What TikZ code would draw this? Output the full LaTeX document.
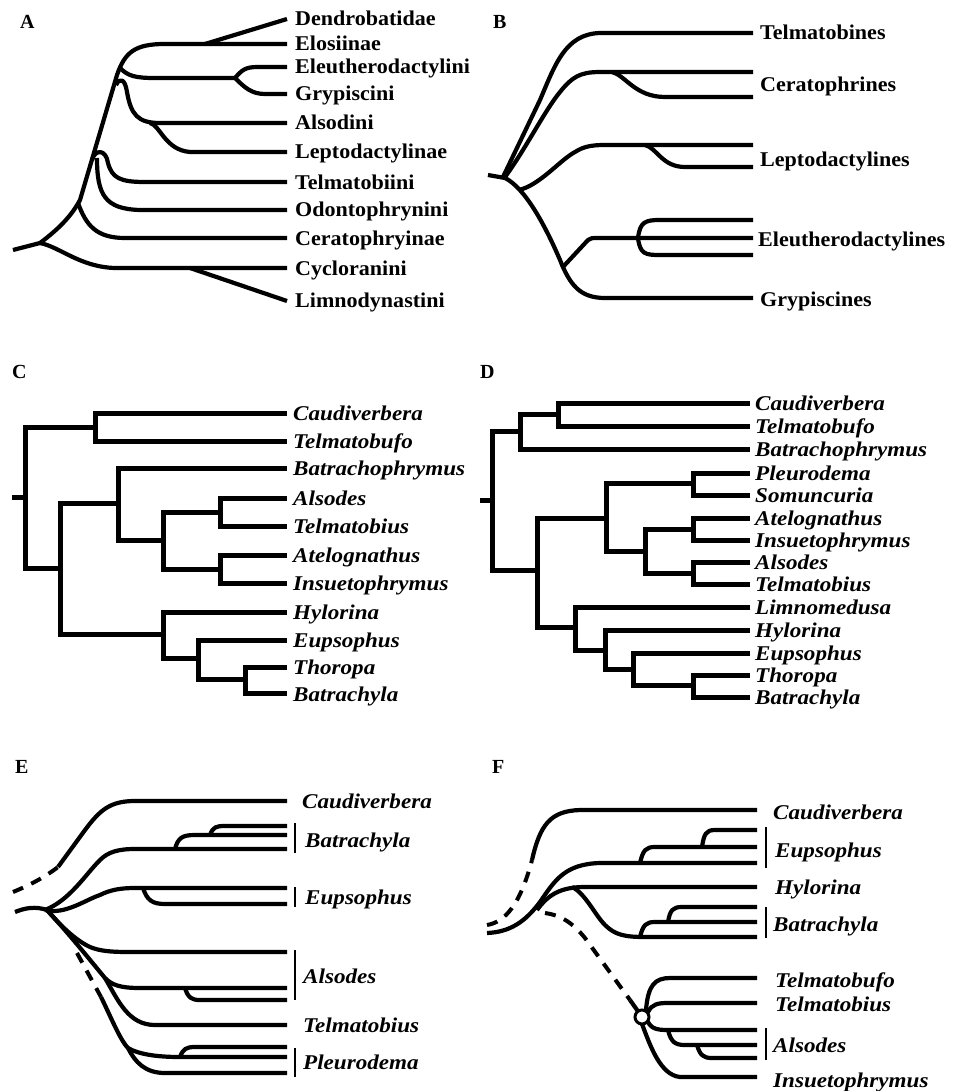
\documentclass[tikz,border=0pt]{standalone}
\usepackage{fontspec}
\setmainfont{Liberation Serif}
\newfontfamily\lf[FakeStretch=1.1]{Liberation Serif}
\newfontfamily\lfa[FakeStretch=1.05]{Liberation Serif}
\begin{document}
\begin{tikzpicture}[x=1pt,y=-1pt,
  crv/.style={line width=4.2pt,line join=round},
  rt/.style={line width=5pt,line join=miter},
  dsh/.style={line width=4pt,dash pattern=on 11pt off 9pt},
  bar/.style={line width=1.8pt},
  labA/.style={font=\lfa\bfseries\fontsize{21}{23}\selectfont,anchor=west,inner sep=0pt,text height=13.5pt,text depth=0pt},
  labI/.style={font=\lf\bfseries\itshape\fontsize{21}{23}\selectfont,anchor=west,inner sep=0pt,text height=14pt,text depth=0pt},
  panel/.style={font=\bfseries\fontsize{20}{22}\selectfont,anchor=west,inner sep=0pt,text height=13pt,text depth=0pt}]
\useasboundingbox (0,0) rectangle (953,1091);
\fill[white] (0,0) rectangle (953,1091);

% ---------------- Panel letters
\node[panel] (pA) at (20,22) {A};
\node[panel] (pB) at (493,22) {B};
\node[panel] (pC) at (12,372) {C};
\node[panel] (pD) at (480,372) {D};
\node[panel] (pE) at (15,767) {E};
\node[panel] (pF) at (492,767) {F};

% ---------------- Panel A
\draw[crv] (13,250) -- (40,243);
\draw[crv] (40,243) .. controls (60,228) and (72,215) .. (80,200) -- (117,75) .. controls (125,52) and (135,44) .. (165,44) -- (287,44);
\draw[crv] (205,44) -- (287,19);
\draw[crv] (40,243) .. controls (60,247) and (80,267) .. (115,268) -- (287,268);
\draw[crv] (190,268) -- (287,301);
\draw[crv] (78,203) .. controls (86,225) and (96,238) .. (125,238) -- (287,238);
\draw[crv] (92,160) .. controls (95,149) and (106,149) .. (108,163) .. controls (112,178) and (120,182) .. (145,182) -- (287,182);
\draw[crv] (97,158) .. controls (97,195) and (105,209) .. (140,210) -- (287,210);
\draw[crv] (120,68) .. controls (128,76) and (135,78) .. (155,78) -- (235,78);
\draw[crv] (235,78) .. controls (242,70) and (245,67) .. (258,67) -- (287,67);
\draw[crv] (235,78) .. controls (245,88) and (252,94) .. (265,94) -- (287,94);
\draw[crv] (116,85) .. controls (120,77) and (125,79) .. (127,92) .. controls (131,115) and (138,123) .. (160,123) -- (287,123);
\draw[crv] (150,123) .. controls (160,125) and (165,150) .. (190,152) -- (287,152);
\node[labA] (a1) at (295,19) {Dendrobatidae};
\node[labA] (a2) at (295,44) {Elosiinae};
\node[labA] (a3) at (295,67) {Eleutherodactylini};
\node[labA] (a4) at (295,94) {Grypiscini};
\node[labA] (a5) at (295,123) {Alsodini};
\node[labA] (a6) at (295,152) {Leptodactylinae};
\node[labA] (a7) at (295,183) {Telmatobiini};
\node[labA] (a8) at (295,210) {Odontophrynini};
\node[labA] (a9) at (295,239) {Ceratophryinae};
\node[labA] (a10) at (295,269) {Cycloranini};
\node[labA] (a11) at (295,301) {Limnodynastini};

% ---------------- Panel B
\draw[crv] (488,175) -- (505,178);
\draw[crv] (503,177) -- (540,100) .. controls (555,65) and (565,34) .. (600,33) -- (753,33);
\draw[crv] (505,177) .. controls (525,150) and (545,110) .. (560,92) .. controls (572,77) and (580,72) .. (600,72) -- (753,72);
\draw[crv] (612,72) .. controls (625,75) and (635,97) .. (665,97) -- (753,97);
\draw[crv] (505,178) .. controls (525,188) and (545,225) .. (560,260) .. controls (570,285) and (580,298) .. (605,298) -- (753,298);
\draw[crv] (519,190) .. controls (540,185) and (560,160) .. (575,152) .. controls (583,147) and (590,145) .. (605,145) -- (753,145);
\draw[crv] (645,145) .. controls (657,148) and (662,167) .. (685,167) -- (753,167);
\draw[crv] (562,268) -- (588,240) .. controls (591,238) .. (600,238) -- (753,238);
\draw[crv] (638,238) .. controls (640,222) and (645,220) .. (660,220) -- (753,220);
\draw[crv] (638,238) .. controls (640,254) and (645,255) .. (660,255) -- (753,255);
\node[labA] (b1) at (760,33) {Telmatobines};
\node[labA] (b2) at (760,85) {Ceratophrines};
\node[labA] (b3) at (760,160) {Leptodactylines};
\node[labA] (b4) at (758,240) {Eleutherodactylines};
\node[labA] (b5) at (760,300) {Grypiscines};

% ---------------- Panel C
\draw[rt] (12,497) -- (25,497);
\draw[rt] (95,427) -- (25,427) -- (25,568) -- (60,568);
\draw[rt] (287,413) -- (95,413) -- (95,441) -- (287,441);
\draw[rt] (118,503) -- (60,503) -- (60,634) -- (163,634);
\draw[rt] (287,468) -- (118,468) -- (118,540) -- (163,540);
\draw[rt] (220,512) -- (163,512) -- (163,569) -- (220,569);
\draw[rt] (287,498) -- (220,498) -- (220,526) -- (287,526);
\draw[rt] (287,555) -- (220,555) -- (220,583) -- (287,583);
\draw[rt] (287,612) -- (163,612) -- (163,658) -- (198,658);
\draw[rt] (287,640) -- (198,640) -- (198,679) -- (245,679);
\draw[rt] (287,667) -- (245,667) -- (245,693) -- (287,693);
\node[labI] (c1) at (293,413) {Caudiverbera};
\node[labI] (c2) at (293,441) {Telmatobufo};
\node[labI] (c3) at (293,468) {Batrachophrymus};
\node[labI] (c4) at (293,498) {Alsodes};
\node[labI] (c5) at (293,526) {Telmatobius};
\node[labI] (c6) at (293,555) {Atelognathus};
\node[labI] (c7) at (293,583) {Insuetophrymus};
\node[labI] (c8) at (293,612) {Hylorina};
\node[labI] (c9) at (293,640) {Eupsophus};
\node[labI] (c10) at (293,667) {Thoropa};
\node[labI] (c11) at (293,694) {Batrachyla};

% ---------------- Panel D
\draw[rt] (480,500) -- (492,500);
\draw[rt] (520,431) -- (492,431) -- (492,570) -- (537,570);
\draw[rt] (558,414) -- (520,414) -- (520,449) -- (750,449);
\draw[rt] (750,403) -- (558,403) -- (558,426) -- (750,426);
\draw[rt] (606,518) -- (537,518) -- (537,627) -- (575,627);
\draw[rt] (693,483) -- (606,483) -- (606,551) -- (645,551);
\draw[rt] (750,473) -- (693,473) -- (693,495) -- (750,495);
\draw[rt] (693,529) -- (645,529) -- (645,573) -- (693,573);
\draw[rt] (750,518) -- (693,518) -- (693,540) -- (750,540);
\draw[rt] (750,562) -- (693,562) -- (693,584) -- (750,584);
\draw[rt] (750,607) -- (575,607) -- (575,650) -- (605,650);
\draw[rt] (750,630) -- (605,630) -- (605,669) -- (633,669);
\draw[rt] (750,653) -- (633,653) -- (633,685) -- (693,685);
\draw[rt] (750,675) -- (693,675) -- (693,697) -- (750,697);
\node[labI] (d1) at (755,403) {Caudiverbera};
\node[labI] (d2) at (755,426) {Telmatobufo};
\node[labI] (d3) at (755,449) {Batrachophrymus};
\node[labI] (d4) at (755,473) {Pleurodema};
\node[labI] (d5) at (755,495) {Somuncuria};
\node[labI] (d6) at (755,518) {Atelognathus};
\node[labI] (d7) at (755,540) {Insuetophrymus};
\node[labI] (d8) at (755,562) {Alsodes};
\node[labI] (d9) at (755,584) {Telmatobius};
\node[labI] (d10) at (755,607) {Limnomedusa};
\node[labI] (d11) at (755,630) {Hylorina};
\node[labI] (d12) at (755,653) {Eupsophus};
\node[labI] (d13) at (755,675) {Thoropa};
\node[labI] (d14) at (755,697) {Batrachyla};

% ---------------- Panel E
\draw[crv] (15,912) .. controls (25,908) and (35,906) .. (47,910);
\draw[dsh] (13,892) .. controls (30,885) and (45,877) .. (58,867);
\draw[crv] (58,867) -- (85,830) .. controls (100,810) and (110,801) .. (135,801) -- (287,801);
\draw[crv] (45,910) .. controls (70,900) and (85,875) .. (100,860) .. controls (108,852) and (118,849) .. (135,849) -- (287,849);
\draw[crv] (175,849) .. controls (178,838) and (182,835) .. (195,835) -- (287,835);
\draw[crv] (210,835) .. controls (213,827) and (216,826) .. (225,826) -- (287,826);
\draw[crv] (45,910) .. controls (65,915) and (85,900) .. (100,895) .. controls (110,890) and (120,888) .. (135,888) -- (287,888);
\draw[crv] (143,888) .. controls (147,900) and (152,904) .. (165,904) -- (287,904);
\draw[crv] (47,910) .. controls (60,925) and (75,940) .. (90,947) .. controls (100,951) and (110,952) .. (130,952) -- (287,952);
\draw[crv] (47,910) .. controls (70,935) and (90,960) .. (105,978) .. controls (112,985) and (120,988) .. (140,988) -- (287,988);
\draw[crv] (105,978) .. controls (118,1000) and (128,1025) .. (155,1025) -- (287,1025);
\draw[crv] (185,988) .. controls (188,998) and (192,1000) .. (200,1000) -- (287,1000);
\draw[dsh] (77,953) -- (101,997);
\draw[crv] (101,997) .. controls (110,1015) and (120,1040) .. (128,1048);
\draw[crv] (128,1048) .. controls (140,1055) and (160,1057) .. (180,1057) -- (287,1057);
\draw[crv] (128,1048) .. controls (135,1062) and (145,1073) .. (165,1073) -- (287,1073);
\draw[crv] (180,1057) .. controls (183,1049) and (186,1047) .. (195,1047) -- (287,1047);
\draw[bar] (295,823) -- (295,853);
\draw[bar] (295,887) -- (295,907);
\draw[bar] (295,950) -- (295,1000);
\draw[bar] (295,1048) -- (295,1077);
\node[labI] (e1) at (302,801) {Caudiverbera};
\node[labI] (e2) at (305,840) {Batrachyla};
\node[labI] (e3) at (305,897) {Eupsophus};
\node[labI] (e4) at (303,976) {Alsodes};
\node[labI] (e5) at (303,1025) {Telmatobius};
\node[labI] (e6) at (303,1062) {Pleurodema};

% ---------------- Panel F
\draw[dsh] (487,925) .. controls (505,922) and (520,905) .. (532,860);
\draw[crv] (532,860) .. controls (540,825) and (550,811) .. (580,810) -- (757,810);
\draw[crv] (487,933) .. controls (510,932) and (525,922) .. (540,902) .. controls (555,880) and (565,864) .. (600,863) -- (757,863);
\draw[crv] (537,910) .. controls (548,895) and (560,887) .. (585,887) -- (757,887);
\draw[crv] (640,863) .. controls (643,850) and (646,847) .. (655,847) -- (757,847);
\draw[crv] (702,847) .. controls (704,834) and (706,830) .. (715,830) -- (757,830);
\draw[crv] (572,887) .. controls (585,893) and (595,915) .. (605,925) .. controls (615,935) and (625,937) .. (645,937) -- (757,937);
\draw[crv] (640,937) .. controls (643,925) and (646,922) .. (655,922) -- (757,922);
\draw[crv] (668,922) .. controls (670,910) and (673,907) .. (682,907) -- (757,907);
\draw[dsh] (545,913) .. controls (560,915) and (572,922) .. (585,938) -- (630,1000);
\draw[crv] (630,1000) -- (642,1017);
\draw[crv] (646,1010) .. controls (648,985) and (655,978) .. (670,978) -- (757,978);
\draw[crv] (648,1012) .. controls (652,1004) and (658,1003) .. (668,1003) -- (757,1003);
\draw[crv] (648,1022) .. controls (652,1030) and (660,1030) .. (670,1030) -- (757,1030);
\draw[crv] (668,1030) .. controls (671,1042) and (675,1045) .. (685,1045) -- (757,1045);
\draw[crv] (697,1045) .. controls (700,1055) and (703,1058) .. (712,1058) -- (757,1058);
\draw[crv] (642,1024) .. controls (650,1045) and (660,1075) .. (680,1077) -- (757,1077);
\node[circle,draw,fill=white,line width=3pt,minimum size=14pt,inner sep=0pt] (fc) at (642,1017) {};
\draw[bar] (766,827) -- (766,868);
\draw[bar] (766,907) -- (766,938);
\draw[bar] (766,1028) -- (766,1060);
\node[labI] (f1) at (773,812) {Caudiverbera};
\node[labI] (f2) at (775,850) {Eupsophus};
\node[labI] (f3) at (775,887) {Hylorina};
\node[labI] (f4) at (773,924) {Batrachyla};
\node[labI] (f5) at (775,980) {Telmatobufo};
\node[labI] (f6) at (775,1004) {Telmatobius};
\node[labI] (f7) at (773,1045) {Alsodes};
\node[labI] (f8) at (773,1080) {Insuetophrymus};
\end{tikzpicture}
\end{document}
